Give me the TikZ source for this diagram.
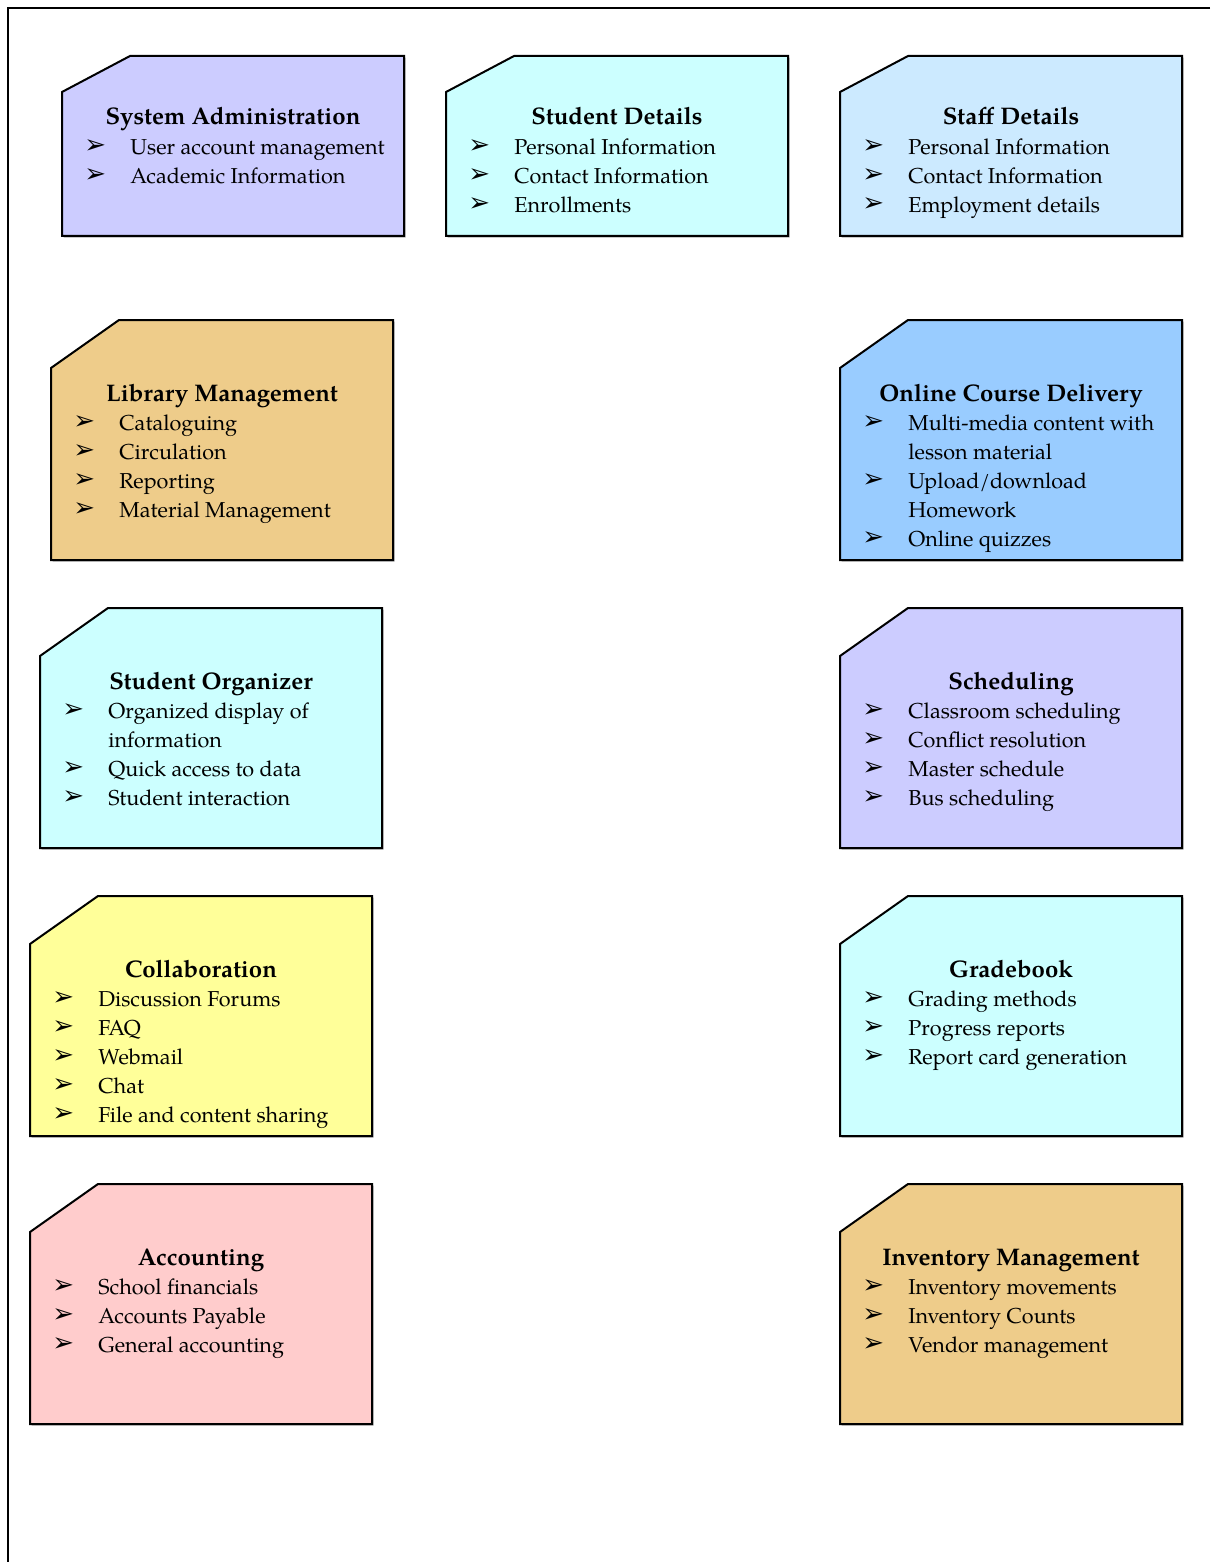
\documentclass[tikz,border=0pt]{standalone}
\usepackage{fontspec}
\setmainfont{TeX Gyre Pagella}
\newfontfamily\dingfont{DejaVu Sans}
\usetikzlibrary{shadows}

\definecolor{lavender}{RGB}{204,204,255}
\definecolor{turquoise}{RGB}{204,255,255}
\definecolor{paleblue}{RGB}{204,234,255}
\definecolor{skyblue}{RGB}{153,204,255}
\definecolor{tan}{RGB}{238,204,138}
\definecolor{lightyellow}{RGB}{255,255,153}
\definecolor{rose}{RGB}{255,204,204}

% bullet and list lines
\newcommand{\bul}{\raisebox{0.6pt}{\dingfont\fontsize{13}{13}\selectfont ➢}}
\newcommand{\itm}[1]{\makebox[23pt][l]{\bul}#1}
\newcommand{\cnt}[1]{\hspace*{23pt}#1}

% #1 name, #2 left, #3 top, #4 height, #5 cut, #6 colour, #7 title, #8 items
\newcommand{\modbox}[8]{%
  \draw[modline, fill=#6] (#2,#3+#5) -- (#2+68,#3) -- (#2+342,#3)
     -- (#2+342,#3+#4) -- (#2,#3+#4) -- cycle;
  \node[modtitle] (#1) at (#2+171,#3+#5+33) {#7};
  \node[moditems] (#1-items) at (#2+22,#3+#5+42) {\strut#8};
}

\begin{document}
\begin{tikzpicture}[x=0.5pt,y=-0.5pt,
  modline/.style={line width=1pt, draw=black,
    drop shadow={shadow xshift=0.8pt,shadow yshift=-0.8pt,fill=black!45,opacity=.7}},
  modtitle/.style={anchor=base, inner sep=0pt,
    font=\fontsize{12}{14.5}\selectfont\bfseries},
  moditems/.style={anchor=north west, inner sep=0pt, align=left,
    font=\fontsize{10.8}{14.5}\selectfont}]

\useasboundingbox (0,0) rectangle (1210,1562);
\draw[line width=1pt] (1210,8) -- (8,8) -- (8,1562);

%%%%% top row %%%%%
\modbox{sysadmin}{62}{56}{180}{36}{lavender}{System Administration}
  {\itm{User account management}\\ \itm{Academic Information}}
\modbox{studdet}{446}{56}{180}{36}{turquoise}{Student Details}
  {\itm{Personal Information}\\ \itm{Contact Information}\\ \itm{Enrollments}}
\modbox{staffdet}{840}{56}{180}{36}{paleblue}{Staff Details}
  {\itm{Personal Information}\\ \itm{Contact Information}\\ \itm{Employment details}}

%%%%% left column %%%%%
\modbox{library}{51}{320}{240}{48}{tan}{Library Management}
  {\itm{Cataloguing}\\ \itm{Circulation}\\ \itm{Reporting}\\ \itm{Material Management}}
\modbox{organizer}{40}{608}{240}{48}{turquoise}{Student Organizer}
  {\itm{Organized display of}\\ \cnt{information}\\ \itm{Quick access to data}\\ \itm{Student interaction}}
\modbox{collab}{30}{896}{240}{48}{lightyellow}{Collaboration}
  {\itm{Discussion Forums}\\ \itm{FAQ}\\ \itm{Webmail}\\ \itm{Chat}\\ \itm{File and content sharing}}
\modbox{accounting}{30}{1184}{240}{48}{rose}{Accounting}
  {\itm{School financials}\\ \itm{Accounts Payable}\\ \itm{General accounting}}

%%%%% right column %%%%%
\modbox{online}{840}{320}{240}{48}{skyblue}{Online Course Delivery}
  {\itm{Multi-media content with}\\ \cnt{lesson material}\\ \itm{Upload/download}\\ \cnt{Homework}\\ \itm{Online quizzes}}
\modbox{scheduling}{840}{608}{240}{48}{lavender}{Scheduling}
  {\itm{Classroom scheduling}\\ \itm{Conflict resolution}\\ \itm{Master schedule}\\ \itm{Bus scheduling}}
\modbox{gradebook}{840}{896}{240}{48}{turquoise}{Gradebook}
  {\itm{Grading methods}\\ \itm{Progress reports}\\ \itm{Report card generation}}
\modbox{inventory}{840}{1184}{240}{48}{tan}{Inventory Management}
  {\itm{Inventory movements}\\ \itm{Inventory Counts}\\ \itm{Vendor management}}

\end{tikzpicture}
\end{document}
